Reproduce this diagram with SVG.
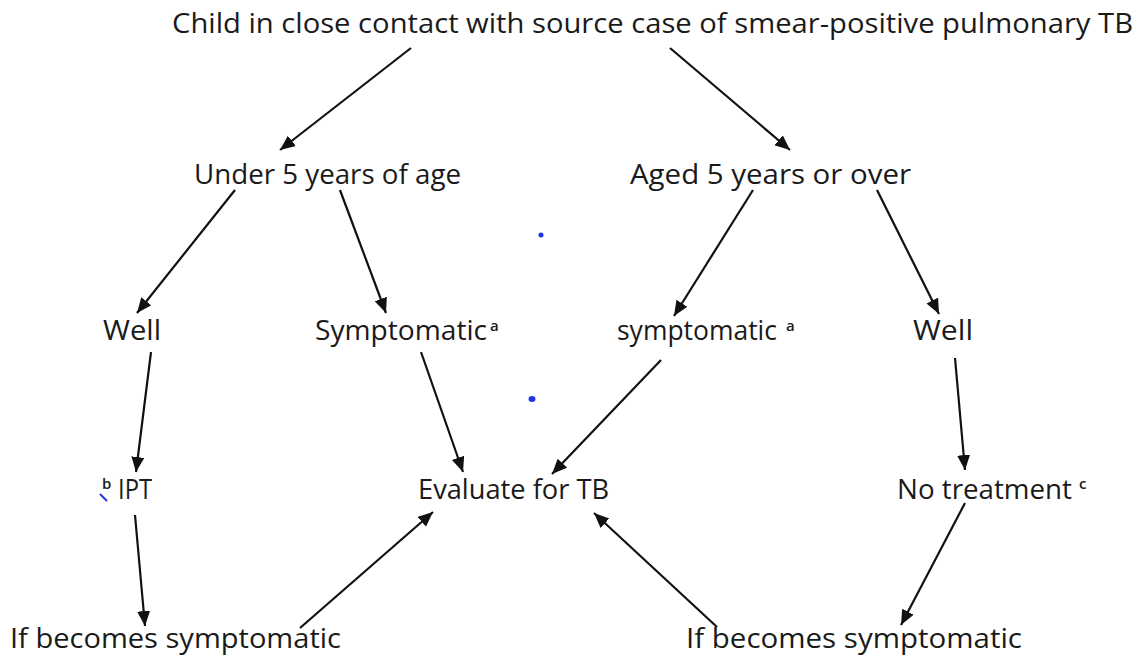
<svg xmlns="http://www.w3.org/2000/svg" width="1142" height="655" viewBox="0 0 1142 655">
<style>
.t{font-family:"Open Sans","Liberation Sans",sans-serif;font-size:28px;fill:#1a1a1a}
.s{font-family:"Open Sans","Liberation Sans",sans-serif;font-size:15px;font-weight:600;fill:#1a1a1a}
.c line{stroke:#111;stroke-width:2.2;marker-end:url(#ah)}
</style>
<defs>
<marker id="ah" markerUnits="userSpaceOnUse" markerWidth="16" markerHeight="14" refX="15" refY="6.5" orient="auto">
<path d="M0,0 L15,6.5 L0,13 z" fill="#111"/>
</marker>
</defs>
<rect width="1142" height="655" fill="#fff"/>
<g class="c" id="connectors">
<line x1="411" y1="48" x2="280" y2="150"/>
<line x1="670" y1="48" x2="790" y2="150"/>
<line x1="235" y1="190" x2="137" y2="313"/>
<line x1="340" y1="190" x2="386" y2="313"/>
<line x1="753" y1="190" x2="674" y2="316"/>
<line x1="877" y1="190" x2="939" y2="314"/>
<line x1="151" y1="352" x2="136" y2="472"/>
<line x1="421" y1="352" x2="463" y2="472"/>
<line x1="661" y1="360" x2="552" y2="474"/>
<line x1="955" y1="358" x2="965" y2="470"/>
<line x1="135" y1="515" x2="145" y2="626"/>
<line x1="300" y1="628" x2="433" y2="512"/>
<line x1="717" y1="627" x2="594" y2="513"/>
<line x1="965" y1="503" x2="901" y2="625"/>
</g>
<g id="n-root"><text class="t" x="172" y="33" textLength="961" lengthAdjust="spacingAndGlyphs">Child in close contact with source case of smear-positive pulmonary TB</text></g>
<g id="n-under5"><text class="t" x="194" y="184" textLength="267" lengthAdjust="spacingAndGlyphs">Under 5 years of age</text></g>
<g id="n-over5"><text class="t" x="630" y="184" textLength="281" lengthAdjust="spacingAndGlyphs">Aged 5 years or over</text></g>
<g id="n-well-left"><text class="t" x="103" y="340" textLength="58" lengthAdjust="spacingAndGlyphs">Well</text></g>
<g id="n-symp-left"><text class="t" x="315" y="340" textLength="172" lengthAdjust="spacingAndGlyphs">Symptomatic</text><text class="s" x="490" y="331">a</text></g>
<g id="n-symp-right"><text class="t" x="617" y="340" textLength="160" lengthAdjust="spacingAndGlyphs">symptomatic</text><text class="s" x="786" y="331">a</text></g>
<g id="n-well-right"><text class="t" x="913" y="340" textLength="60" lengthAdjust="spacingAndGlyphs">Well</text></g>
<g id="n-ipt"><text class="s" x="102" y="489">b</text><text class="t" x="118" y="499" textLength="34" lengthAdjust="spacingAndGlyphs">IPT</text><line x1="100" y1="494" x2="107" y2="501" stroke="#2233dd" stroke-width="2"/></g>
<g id="n-evaluate"><text class="t" x="418" y="499" textLength="191" lengthAdjust="spacingAndGlyphs">Evaluate for TB</text></g>
<g id="n-notreat"><text class="t" x="897" y="499" textLength="175" lengthAdjust="spacingAndGlyphs">No treatment</text><text class="s" x="1079" y="489">c</text></g>
<g id="n-if-left"><text class="t" x="10" y="648" textLength="331" lengthAdjust="spacingAndGlyphs">If becomes symptomatic</text></g>
<g id="n-if-right"><text class="t" x="686" y="648" textLength="336" lengthAdjust="spacingAndGlyphs">If becomes symptomatic</text></g>
<circle cx="541" cy="235" r="2.5" fill="#2233ee"/>
<ellipse cx="532" cy="399" rx="3.5" ry="3" fill="#2233ee"/>
</svg>
